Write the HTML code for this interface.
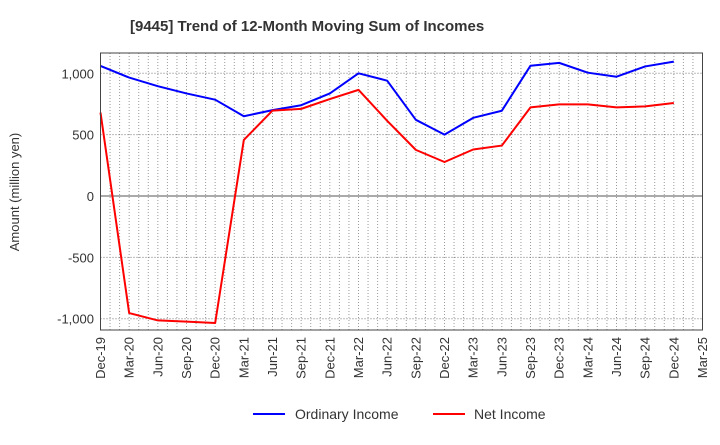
<!DOCTYPE html>
<html><head><meta charset="utf-8"><style>
body{margin:0;background:#fff;font-family:"Liberation Sans",sans-serif}
svg text{font-family:"Liberation Sans",sans-serif}
</style></head><body>
<svg width="720" height="440" xmlns="http://www.w3.org/2000/svg">
<text x="130" y="31" font-size="15" font-weight="bold" fill="#333">[9445]  Trend of 12-Month Moving Sum of Incomes</text>
<g id="grid"></g>
<g id="yaxis"></g>
<g id="xaxis"></g>
<g id="series"></g>
<rect x="100.5" y="53" width="602" height="277" fill="none" stroke="#444"/>
<text transform="translate(19,192) rotate(-90)" text-anchor="middle" font-size="13" fill="#333">Amount (million yen)</text>
<g>
<line x1="253" y1="414" x2="285" y2="414" stroke="#0000ff" stroke-width="2"/>
<text x="295" y="419" font-size="14" fill="#333">Ordinary Income</text>
<line x1="433" y1="414" x2="465" y2="414" stroke="#ff0000" stroke-width="2"/>
<text x="474" y="419" font-size="14" fill="#333">Net Income</text>
</g>
</svg>
<script>
const categories=["Dec-19","Mar-20","Jun-20","Sep-20","Dec-20","Mar-21","Jun-21","Sep-21","Dec-21","Mar-22","Jun-22","Sep-22","Dec-22","Mar-23","Jun-23","Sep-23","Dec-23","Mar-24","Jun-24","Sep-24","Dec-24","Mar-25"];
const ordinaryIncome=[1060,965,895,836,785,650,700,740,836,1000,940,621,500,637,695,1062,1085,1005,972,1056,1095];
const netIncome=[680,-954,-1014,-1024,-1035,457,696,710,790,865,613,376,277,379,411,722,747,747,722,730,758];
const yTicks=[1000,500,0,-500,-1000];
const yTickLabels=["1,000","500","0","-500","-1,000"];
const NS="http://www.w3.org/2000/svg";
const x0=100.5,x1=702.5,nSlots=categories.length-1;
function xs(i){return x0+i*(x1-x0)/nSlots;}
function ys(v){return 196-v*(196-73.3)/1000;}
function mk(tag,attrs,parent){const e=document.createElementNS(NS,tag);for(const k in attrs)e.setAttribute(k,attrs[k]);parent.appendChild(e);return e;}
const grid=document.getElementById('grid'),ya=document.getElementById('yaxis'),xa=document.getElementById('xaxis'),se=document.getElementById('series');
for(let m=1;m<nSlots*3;m++){const x=x0+m*(x1-x0)/(nSlots*3);
const l=mk('line',{x1:x,x2:x,y1:53,y2:330,stroke:'#999','stroke-dasharray':'1,2','stroke-width':1},grid);
}
yTicks.forEach((v,i)=>{const y=ys(v);
const l=mk('line',{x1:x0,x2:x1,y1:y,y2:y,stroke:v===0?'#555':'#777','stroke-dasharray':v===0?'none':'1,2','stroke-width':1},grid);

const t=mk('text',{x:94,y:y+5,'text-anchor':'end','font-size':13,fill:'#333'},ya);t.textContent=yTickLabels[i];
});
categories.forEach((c,i)=>{const x=xs(i);
const t=mk('text',{transform:`translate(${x+4.5},337) rotate(-90)`,'text-anchor':'end','font-size':13,fill:'#333'},xa);t.textContent=c;
});
function line(arr,color,name){const p=mk('polyline',{points:arr.map((v,i)=>xs(i)+','+ys(v)).join(' '),fill:'none',stroke:color,'stroke-width':2,'stroke-linejoin':'round'},se);
}
line(ordinaryIncome,'#0000ff','ordinary-income-line');
line(netIncome,'#ff0000','net-income-line');
</script>
</body></html>
